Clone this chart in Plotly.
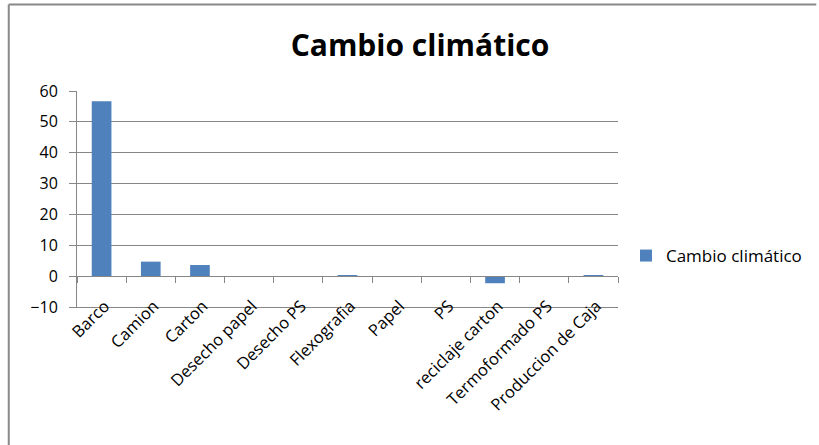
import plotly.graph_objects as go

# Categories and values of the climate-change indicator
categorias = ["Barco", "Camion", "Carton", "Desecho papel", "Desecho PS",
              "Flexografia", "Papel", "PS", "reciclaje carton",
              "Termoformado PS", "Produccion de Caja"]
cambio_climatico = [56.7, 4.7, 3.6, 0.0, 0.0, 0.3, 0.0, 0.0, -2.3, 0.0, 0.3]
ticks_y = [-10, 0, 10, 20, 30, 40, 50, 60]

GRIS = "#868686"
AZUL = "#4F81BD"
FUENTE = "'Open Sans', sans-serif"

W, H = 819, 445
ML, MR, MT, MB = 77, 199, 91, 138
plot_w = W - ML - MR
plot_h = H - MT - MB
y_min, y_max = -10, 60


def px_x(p):
    return (p - ML) / plot_w


def px_y(p):
    return (H - MB - p) / plot_h


fig = go.Figure()

fig.add_trace(go.Bar(
    x=categorias, y=cambio_climatico, name="Cambio climático",
    marker=dict(color=AZUL, line=dict(width=0)),
    width=0.4, xaxis="x", yaxis="y",
))

# Invisible trace carrying the category labels on the lower axis
fig.add_trace(go.Scatter(
    x=categorias, y=[None] * len(categorias), xaxis="x2", yaxis="y",
    mode="markers", showlegend=False, hoverinfo="skip",
))

fig.update_layout(
    width=W, height=H,
    margin=dict(l=ML, r=MR, t=MT, b=MB),
    paper_bgcolor="white", plot_bgcolor="white",
    font=dict(family=FUENTE, size=15, color="black"),
    title=dict(text="<b>Cambio climático</b>", x=(420 / W), xanchor="center",
               y=1 - 45 / H, yanchor="middle",
               font=dict(family=FUENTE, size=30, color="black")),
    bargap=0.6,
    showlegend=True,
    legend=dict(x=px_x(628), xanchor="left", y=px_y(256), yanchor="middle",
                font=dict(family=FUENTE, size=17, color="black"),
                bgcolor="rgba(0,0,0,0)", itemwidth=30),
    xaxis=dict(
        type="category", categoryorder="array", categoryarray=categorias,
        range=[-0.5, len(categorias) - 0.5],
        anchor="free", position=(0 - y_min) / (y_max - y_min),
        showline=True, linecolor=GRIS, linewidth=1,
        ticks="outside", tickson="boundaries", ticklen=6, tickcolor=GRIS,
        showticklabels=False, showgrid=False, zeroline=False,
    ),
    xaxis2=dict(
        type="category", categoryorder="array", categoryarray=categorias,
        range=[-0.5, len(categorias) - 0.5],
        overlaying="x", anchor="y", side="bottom",
        showline=True, linecolor=GRIS, linewidth=1,
        ticks="", showgrid=False, zeroline=False,
        tickangle=-45, ticklabelstandoff=-18, ticklabelshift=3,
        tickfont=dict(family=FUENTE, size=16.5, color="black"),
    ),
    yaxis=dict(
        range=[y_min, y_max], tickvals=ticks_y,
        showline=True, linecolor=GRIS, linewidth=1,
        ticks="outside", ticklen=7, tickcolor=GRIS,
        showgrid=True, gridcolor=GRIS, gridwidth=1, zeroline=False,
        ticklabelstandoff=8,
        tickfont=dict(family=FUENTE, size=16, color="black"),
    ),
    shapes=[
        # chart frame (top and left edges)
        dict(type="line", xref="paper", yref="paper",
             x0=px_x(8.5), x1=px_x(W), y0=px_y(4.5), y1=px_y(4.5),
             line=dict(color="#888888", width=2)),
        dict(type="line", xref="paper", yref="paper",
             x0=px_x(8.5), x1=px_x(8.5), y0=px_y(4.5), y1=px_y(H),
             line=dict(color="#888888", width=2)),
    ],
)

fig.write_html("out.html")
